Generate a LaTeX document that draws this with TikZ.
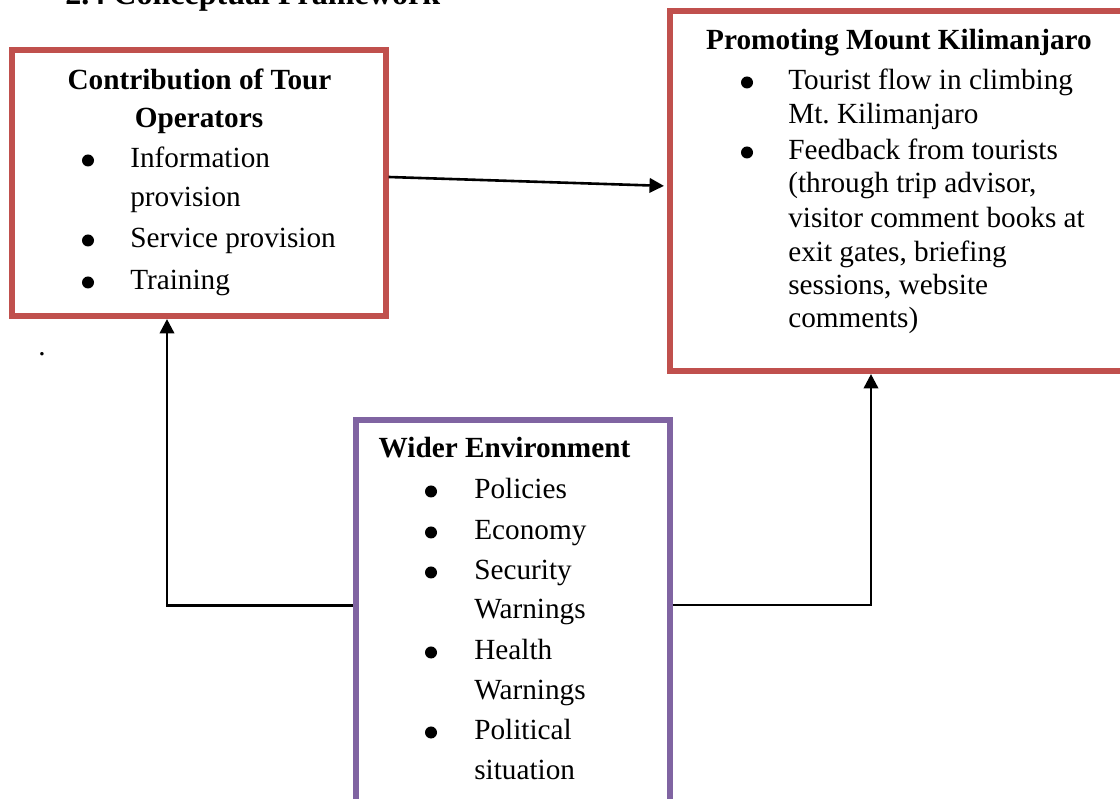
\documentclass[tikz,border=0pt]{standalone}
\usepackage{fontspec}
\setmainfont{Liberation Serif}
\usetikzlibrary{arrows.meta}
\definecolor{framered}{RGB}{192,80,77}
\definecolor{framepurple}{RGB}{128,100,162}
\tikzset{
  txt/.style = {inner sep=0pt, font=\fontsize{20.8pt}{25pt}\selectfont},
  itm/.style = {txt, anchor=base west},
  hdr/.style = {txt, anchor=base, font=\fontsize{20.8pt}{25pt}\selectfont\bfseries},
  dot_b/.style = {circle, fill=black, inner sep=0pt, minimum size=0.3cm},
  box_r/.style = {rectangle, draw=framered, line width=0.15cm},
  box_p/.style = {rectangle, draw=framepurple, line width=0.15cm},
  link/.style = {-{Triangle[length=0.36cm, width=0.36cm]}, line width=0.065cm}
}
\begin{document}
\begin{tikzpicture}[x=0.025cm, y=-0.025cm]
  \useasboundingbox (0,0) rectangle (1120,799);
  \clip (0,0) rectangle (1120,799);

  % heading (cut off at the top)
  \node[hdr, anchor=base west, font=\fontsize{22.8pt}{27pt}\selectfont\bfseries]
    (title) at (65,5) {2.4 Conceptual Framework};

  % frames
  \node[box_r, minimum width=9.325cm, minimum height=6.65cm] (tour) at (199,183) {};
  \node[box_r, minimum width=11.4cm, minimum height=9cm] (promo) at (898,191) {};
  \node[box_p, minimum width=7.84cm, minimum height=9.75cm] (env) at (512.75,614.75) {};

  % tour operators
  \node[hdr] (tour-h1) at (199.5,90) {Contribution of Tour};
  \node[hdr] (tour-h2) at (199,128) {Operators};
  \foreach \y/\t [count=\i] in {168/Information, 207/provision,
      248/Service provision, 290/Training}
    \node[itm] (tour-\i) at (130,\y) {\t};
  \foreach \y [count=\i] in {168,248,290}
    \node[dot_b] (tourdot-\i) at (88,{\y-7.5}) {};

  % promoting mount kilimanjaro
  \node[hdr] (promo-h) at (899,50) {Promoting Mount Kilimanjaro};
  \foreach \y/\t [count=\i] in {90/Tourist flow in climbing, 124/Mt.\ Kilimanjaro,
      160/Feedback from tourists, 193/{(through trip advisor,},
      228/visitor comment books at, 262/{exit gates, briefing},
      295/{sessions, website}, 328/comments)}
    \node[itm] (promo-\i) at (788,\y) {\t};
  \foreach \y [count=\i] in {90,160}
    \node[dot_b] (promodot-\i) at (747,{\y-7.5}) {};

  % wider environment
  \node[hdr] (env-h) at (504.5,458) {Wider Environment};
  \foreach \y/\t [count=\i] in {499/Policies, 540/Economy, 580/Security,
      619/Warnings, 660/Health, 700/Warnings, 740/Political, 780/situation}
    \node[itm] (env-\i) at (474,\y) {\t};
  \foreach \y [count=\i] in {499,540,580,660,740}
    \node[dot_b] (envdot-\i) at (431,{\y-7.5}) {};

  \node[itm] (stray) at (38,356) {.};

  % connectors
  \draw[link, shorten >=0.075cm] ([yshift=0.15cm]tour.east) -- ([yshift=0.125cm]promo.west);
  \draw[link] ([yshift=0.231cm]env.west) -| ([xshift=-0.8cm]tour.south);
  \draw[link] ([yshift=0.24cm]env.east) -| ([xshift=-0.675cm]promo.south);
\end{tikzpicture}
\end{document}
